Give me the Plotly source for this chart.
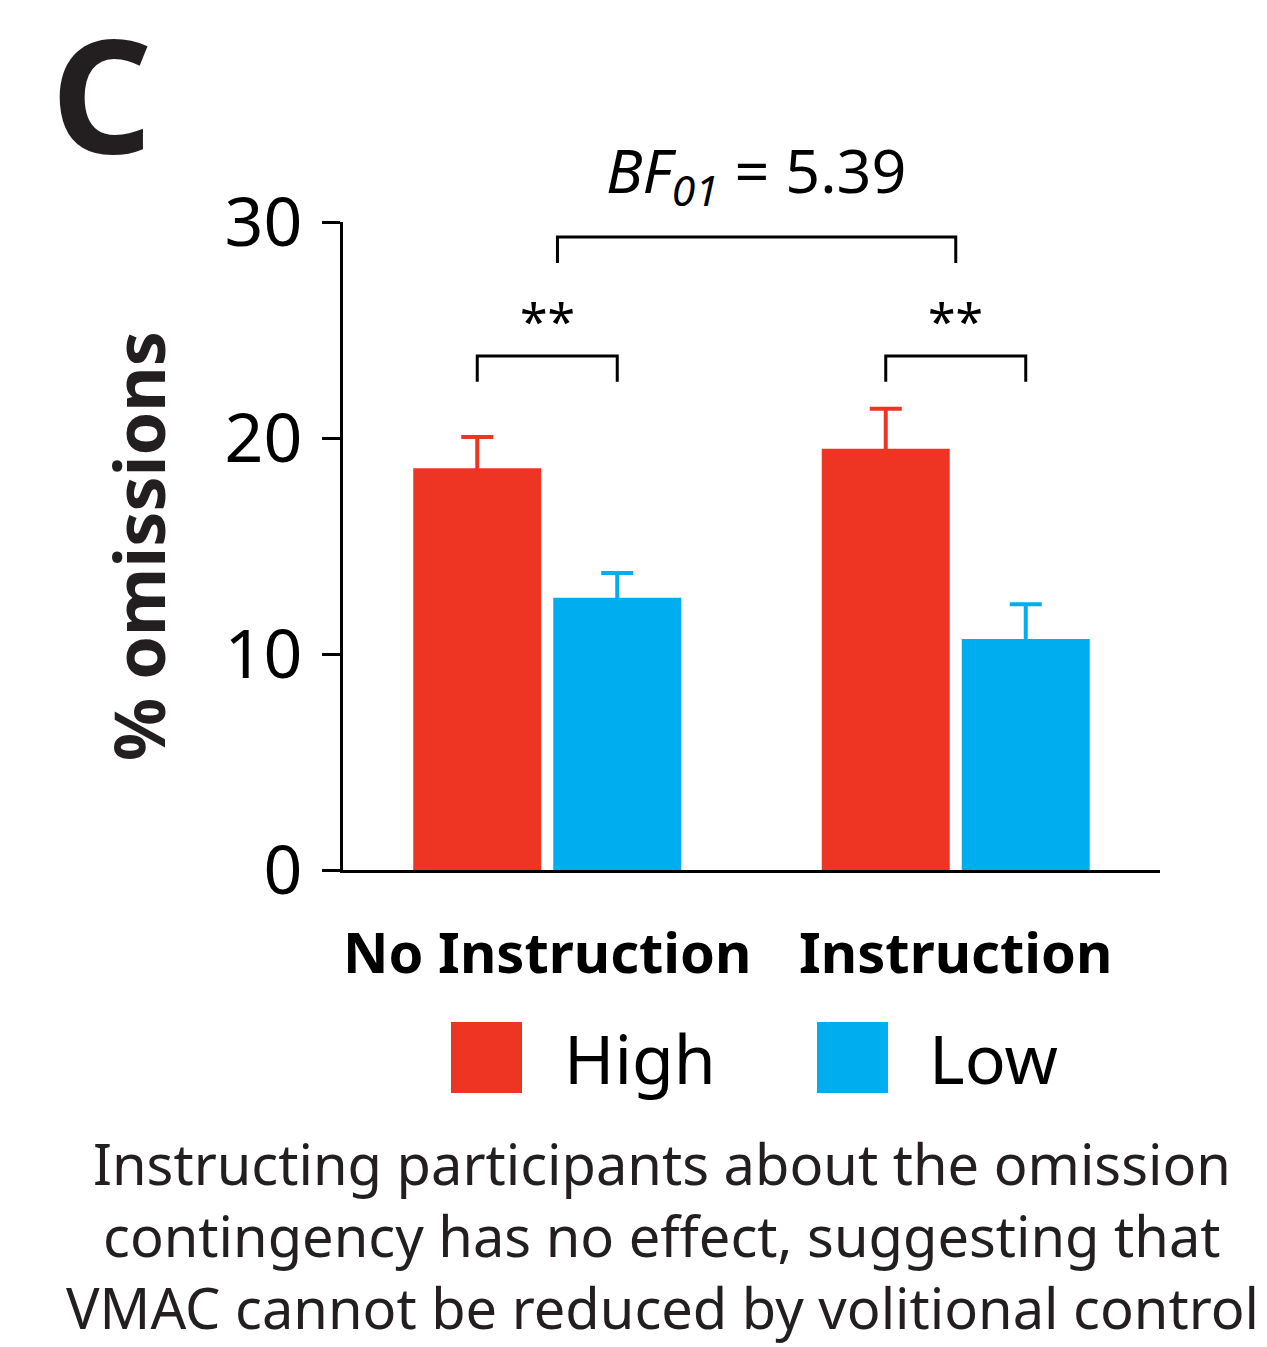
import plotly.graph_objects as go

# ---- data ----
categories = ["No Instruction", "Instruction"]
series_names = ["High", "Low"]
high_values = [18.6, 19.5]
high_errors = [1.45, 1.85]
low_values = [12.6, 10.7]
low_errors = [1.15, 1.6]
y_ticks = [0, 10, 20, 30]
bf_label = "<i>BF</i><sub><i>01</i></sub> = 5.39"
sig_label = "**"
caption_lines = [
    "Instructing participants about the omission",
    "contingency has no effect, suggesting that",
    "VMAC cannot be reduced by volitional control",
]

RED = "#EE3524"
BLUE = "#00AEEF"
FONT = "Noto Sans"

W, H = 1267, 1347
L, R, T, B = 343, 1160, 222, 870


def px(x):
    return (x - L) / (R - L)


def py(y):
    return (B - y) / (B - T)


fig = go.Figure()
for name, vals, errs, col in [
    (series_names[0], high_values, high_errors, RED),
    (series_names[1], low_values, low_errors, BLUE),
]:
    fig.add_trace(go.Bar(
        x=categories, y=vals, name=name, marker=dict(color=col, line=dict(width=0)),
        # lower cap hidden inside the bar (same colour)
        error_y=dict(type="data", symmetric=False, array=errs, arrayminus=[0.25] * len(errs),
                     color=col, thickness=4, width=16),
        showlegend=False,
    ))

bargap = 0.3146
fig.update_layout(
    width=W, height=H,
    margin=dict(l=L, r=W - R, t=T, b=H - B, pad=0),
    paper_bgcolor="white", plot_bgcolor="white",
    barmode="group", bargap=bargap, bargroupgap=0.0857,
    font=dict(family=FONT, color="black"),
)
fig.update_yaxes(
    range=[0, 30], tickvals=y_ticks, showgrid=False, zeroline=False,
    showline=True, linecolor="black", linewidth=3,
    ticks="outside", ticklen=18, tickwidth=3, tickcolor="black",
    tickfont=dict(size=68, family=FONT, color="black"), ticklabelstandoff=6,
)
fig.update_xaxes(
    showgrid=False, zeroline=False, showline=True, linecolor="black", linewidth=3,
    ticks="", tickfont=dict(size=56, family=FONT, color="black", weight="bold"),
    ticklabelstandoff=33, range=[-0.5, 1.5],
)

slot = (1 - bargap) / 2
off = slot / 2
shapes = []


def bracket(x0, x1, ytop, ybot):
    shapes.append(dict(type="path", xref="x", yref="y",
                       path=f"M {x0},{ybot} L {x0},{ytop} L {x1},{ytop} L {x1},{ybot}",
                       line=dict(color="black", width=3)))


bracket(0 - off, 0 + off, 23.8, 22.6)
bracket(1 - off, 1 + off, 23.8, 22.6)
bracket(0.025, 1.0, 29.3, 28.1)


def ann(text, x, y, size, color="black", **kw):
    d = dict(text=text, x=x, y=y, xref="paper", yref="paper", showarrow=False,
             xanchor="center", yanchor="middle",
             font=dict(size=size, family=FONT, color=color))
    d.update(kw)
    return d


annotations = [
    dict(text=sig_label, x=0, y=25.4, xref="x", yref="y", showarrow=False,
         xanchor="center", yanchor="middle", font=dict(size=50, family=FONT, color="black")),
    dict(text=sig_label, x=1, y=25.4, xref="x", yref="y", showarrow=False,
         xanchor="center", yanchor="middle", font=dict(size=50, family=FONT, color="black")),
    ann(bf_label, px(756), py(174), 61),
    ann("<b>C</b>", px(101), py(91), 158, "#231F20"),
    ann("<b>% omissions</b>", px(138), py(546), 70, "#231F20", textangle=-90),
]

# manual legend (large swatches)
legend_items = [(series_names[0], RED, 451, 565), (series_names[1], BLUE, 817, 930)]
for name, col, sx, tx in legend_items:
    shapes.append(dict(type="rect", xref="paper", yref="paper",
                       x0=px(sx), x1=px(sx + 71), y0=py(1022), y1=py(1093),
                       fillcolor=col, line=dict(width=0)))
    annotations.append(ann(name, px(tx - 3), py(1057), 68, xanchor="left"))

for i, line in enumerate(caption_lines):
    annotations.append(ann(line, px(662), py(1163 + i * 72), 56, "#231F20"))

fig.update_layout(shapes=shapes, annotations=annotations)
fig.write_html("out.html")
